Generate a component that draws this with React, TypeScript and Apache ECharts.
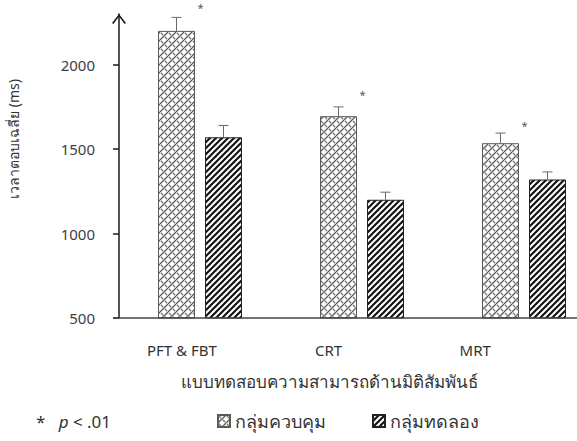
import React, { useEffect, useRef } from "react";
import * as echarts from "echarts";

const categories = ["PFT & FBT", "CRT", "MRT"];
const controlValues = [2200, 1695, 1535];
const experimentValues = [1570, 1200, 1320];
const controlErrors = [80, 55, 60];
const experimentErrors = [70, 45, 45];
const starValues = [2340, 1825, 1640];
const yTicks = [500, 1000, 1500, 2000];
const seriesNames = ["กลุ่มควบคุม", "กลุ่มทดลอง"];
const yTitle = "เวลาตอบเฉลี่ย (ms)";
const xTitle = "แบบทดสอบความสามารถด้านมิติสัมพันธ์";

const FONT = "'Noto Sans', 'DejaVu Sans', sans-serif";
const BAR_W = 37;
const BAR_GAP_PX = 10;
const SHIFT = (BAR_W + BAR_GAP_PX) / 2;

function controlPattern() {
  const c = document.createElement("canvas");
  c.width = 8;
  c.height = 8;
  const g = c.getContext("2d")!;
  g.fillStyle = "#ffffff";
  g.fillRect(0, 0, 8, 8);
  g.strokeStyle = "#5e5e5e";
  g.lineWidth = 1.3;
  for (let k = -1; k <= 1; k++) {
    g.beginPath();
    g.moveTo(k * 8, 8);
    g.lineTo(k * 8 + 8, 0);
    g.stroke();
  }
  g.strokeStyle = "#7a7a7a";
  g.lineWidth = 1.3;
  g.beginPath();
  g.moveTo(0.8, 0.8);
  g.lineTo(3.2, 3.2);
  g.stroke();
  g.beginPath();
  g.moveTo(4.8, 4.8);
  g.lineTo(7.2, 7.2);
  g.stroke();
  return c;
}

function experimentPattern() {
  const c = document.createElement("canvas");
  c.width = 6;
  c.height = 6;
  const g = c.getContext("2d")!;
  g.fillStyle = "#ffffff";
  g.fillRect(0, 0, 6, 6);
  g.strokeStyle = "#111111";
  g.lineWidth = 2.1;
  for (let k = -1; k <= 1; k++) {
    g.beginPath();
    g.moveTo(k * 6 - 1, 7);
    g.lineTo(k * 6 + 7, -1);
    g.stroke();
  }
  return c;
}

function errorSeries(values: number[], errs: number[], sign: number, withStars: boolean) {
  return {
    type: "custom",
    xAxisIndex: 0,
    yAxisIndex: 0,
    silent: true,
    z: 5,
    clip: false,
    data: categories.map((_, i) => [i, values[i], values[i] + errs[i], starValues[i]]),
    renderItem: (_params: any, api: any) => {
      const i = api.value(0);
      const p0 = api.coord([i, api.value(1)]);
      const p1 = api.coord([i, api.value(2)]);
      const x = p0[0] + sign * SHIFT;
      const children: any[] = [
        { type: "line", shape: { x1: x, y1: p0[1], x2: x, y2: p1[1] }, style: { stroke: "#6a6a6a", lineWidth: 1 } },
        { type: "line", shape: { x1: x - 5, y1: p1[1], x2: x + 5, y2: p1[1] }, style: { stroke: "#6a6a6a", lineWidth: 1 } },
      ];
      if (withStars) {
        const ps = api.coord([i, api.value(3)]);
        children.push({
          type: "text",
          x: x + 24,
          y: ps[1],
          style: { text: "*", fontSize: 11, fill: "#555", align: "center", verticalAlign: "middle", fontFamily: FONT },
        });
      }
      return { type: "group", children };
    },
  };
}

export default function App() {
  const ref = useRef<HTMLDivElement>(null);
  useEffect(() => {
    if (!ref.current) return;
    const chart = echarts.init(ref.current, null, { renderer: "svg" });
    const cp = { image: controlPattern(), repeat: "repeat" };
    const ep = { image: experimentPattern(), repeat: "repeat" };
    chart.setOption({
      animation: false,
      backgroundColor: "#ffffff",
      grid: [
        { left: 119, width: 486, top: 14, bottom: 123, containLabel: false, outerBoundsMode: "none" },
        { left: 108.5, width: 440, top: 14, bottom: 123, containLabel: false, outerBoundsMode: "none" },
      ],
      xAxis: [
        {
          type: "category",
          gridIndex: 0,
          data: categories,
          axisLine: { show: false },
          axisTick: { show: false },
          axisLabel: { show: false },
        },
        {
          type: "category",
          gridIndex: 1,
          data: categories,
          axisLine: { show: false },
          axisTick: { show: false },
          axisLabel: { show: true, margin: 24, fontSize: 15, color: "#333", fontFamily: FONT },
        },
      ],
      yAxis: [
        {
          type: "value",
          gridIndex: 0,
          min: 500,
          max: 2300,
          splitLine: { show: false },
          axisLine: {
            show: true,
            lineStyle: { color: "#1a1a1a", width: 1.5 },
            symbol: ["none", "path://M0,9 L7,0 L14,9 L12.6,10 L7,2.6 L1.4,10 Z"],
            symbolSize: [14, 10],
            symbolOffset: [0, -5],
          },
          axisTick: { show: true, length: 6, lineStyle: { color: "#1a1a1a", width: 1.5 }, customValues: yTicks },
          axisLabel: {
            margin: 24,
            fontSize: 15,
            color: "#404040",
            fontFamily: FONT,
            customValues: yTicks,
            formatter: (v: number) => String(v),
          },
        },
        { type: "value", gridIndex: 1, show: false, min: 500, max: 2300 },
      ],
      legend: {
        data: seriesNames,
        left: 217,
        top: 412,
        padding: 0,
        itemWidth: 12,
        itemHeight: 12,
        itemGap: 46,
        icon: "rect",
        textStyle: { fontSize: 18, color: "#333", fontFamily: FONT },
      },
      graphic: [
        {
          type: "line",
          shape: { x1: 113, y1: 318, x2: 577, y2: 318 },
          style: { stroke: "#444", lineWidth: 1.6 },
          z: 10,
        },
        {
          type: "text",
          x: 13,
          y: 139,
          rotation: Math.PI / 2,
          style: { text: yTitle, fontSize: 14, fill: "#333", align: "center", verticalAlign: "middle", fontFamily: FONT },
        },
        {
          type: "text",
          x: 329,
          y: 381,
          style: { text: xTitle, fontSize: 17, fill: "#333", align: "center", verticalAlign: "middle", fontFamily: FONT },
        },
        {
          type: "text",
          x: 36,
          y: 421,
          style: {
            text: "{n|*   }{i|p}{n| < .01}",
            verticalAlign: "middle",
            rich: {
              n: { fontSize: 17, fill: "#333", fontFamily: FONT },
              i: { fontSize: 17, fill: "#333", fontFamily: FONT, fontStyle: "italic" },
            },
          },
        },
      ],
      series: [
        {
          name: seriesNames[0],
          type: "bar",
          xAxisIndex: 0,
          yAxisIndex: 0,
          data: controlValues,
          barWidth: BAR_W,
          barGap: `${(BAR_GAP_PX / BAR_W) * 100}%`,
          itemStyle: { color: cp, borderColor: "#5a5a5a", borderWidth: 1 },
        },
        {
          name: seriesNames[1],
          type: "bar",
          xAxisIndex: 0,
          yAxisIndex: 0,
          data: experimentValues,
          barWidth: BAR_W,
          barGap: `${(BAR_GAP_PX / BAR_W) * 100}%`,
          itemStyle: { color: ep, borderColor: "#222", borderWidth: 1 },
        },
        errorSeries(controlValues, controlErrors, -1, true),
        errorSeries(experimentValues, experimentErrors, 1, false),
      ],
    });
    return () => chart.dispose();
  }, []);
  return <div ref={ref} style={{ width: 577, height: 441, position: "absolute", left: 0, top: 0 }} />;
}
